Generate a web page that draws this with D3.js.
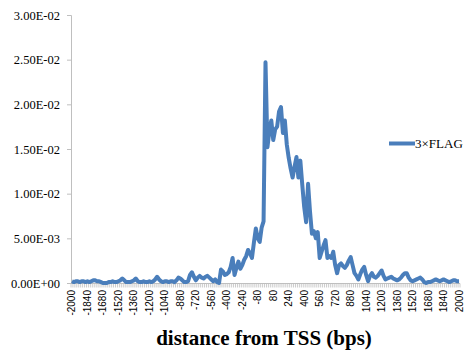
<!DOCTYPE html>
<html><head><meta charset="utf-8">
<script src="https://cdn.jsdelivr.net/npm/d3@7/dist/d3.min.js"></script>
<style>body{margin:0;background:#fff}svg{display:block}</style>
</head><body>
<script>
// categories: distance from TSS, -2000..2000 step 20
const positions = d3.range(-2000, 2001, 20);
const seriesName = "3×FLAG";
const values = [
0.0002,0.0001,0.0002,0.0002,0.0001,0.0002,0.0002,0.0001,0.0002,0.0001,
0.0002,0.0003,0.0003,0.0002,0.0002,0.0001,0.0000,0.0000,0.0000,0.0001,
0.0001,0.0002,0.0001,0.0001,0.0002,0.0003,0.0005,0.0003,0.0001,0.0001,
0.0001,0.0002,0.0003,0.0005,0.0002,0.0001,0.0001,0.0002,0.0001,0.0001,
0.0002,0.0001,0.0002,0.0004,0.0007,0.0004,0.0002,0.0001,0.0002,0.0002,
0.0001,0.0002,0.0002,0.0001,0.0003,0.0006,0.0005,0.0003,0.0001,0.0001,
0.0002,0.0009,0.0012,0.0007,0.0003,0.0006,0.0008,0.0006,0.0005,0.0007,
0.0008,0.0006,0.0004,0.0002,0.0004,0.0001,0.0000,0.0015,0.0013,0.0009,
0.0010,0.0012,0.0018,0.0028,0.0009,0.0017,0.0024,0.0016,0.0020,0.0026,
0.0030,0.0037,0.0033,0.0028,0.0045,0.0061,0.0050,0.0046,0.0062,0.0069,
0.0247,0.0152,0.0170,0.0182,0.0160,0.0172,0.0175,0.0192,0.0197,0.0168,
0.0182,0.0155,0.0140,0.0128,0.0118,0.0130,0.0141,0.0118,0.0137,0.0110,
0.0085,0.0068,0.0111,0.0080,0.0055,0.0058,0.0050,0.0057,0.0028,0.0035,
0.0042,0.0048,0.0028,0.0030,0.0028,0.0035,0.0020,0.0011,0.0020,0.0022,
0.0019,0.0017,0.0020,0.0025,0.0029,0.0020,0.0011,0.0008,0.0004,0.0010,
0.0015,0.0018,0.0009,0.0002,0.0008,0.0011,0.0007,0.0006,0.0008,0.0011,
0.0014,0.0008,0.0004,0.0005,0.0006,0.0007,0.0005,0.0004,0.0003,0.0004,
0.0006,0.0009,0.0011,0.0011,0.0006,0.0003,0.0002,0.0003,0.0004,0.0005,
0.0006,0.0004,0.0001,0.0000,0.0001,0.0001,0.0002,0.0003,0.0004,0.0003,
0.0002,0.0003,0.0004,0.0003,0.0002,0.0001,0.0002,0.0003,0.0003,0.0002,
0.0002
];
const xLabelValues = [-2000,-1840,-1680,-1520,-1360,-1200,-1040,-880,-720,-560,-400,-240,-80,80,240,400,560,720,880,1040,1200,1360,1520,1680,1840,2000];
const yTickValues = [0, 0.005, 0.01, 0.015, 0.02, 0.025, 0.03];
const yTickLabels = ["0.00E+00","5.00E-03","1.00E-02","1.50E-02","2.00E-02","2.50E-02","3.00E-02"];
const xTitle = "distance from TSS (bps)";

const W = 464, H = 351;
const svg = d3.select("body").append("svg").attr("width", W).attr("height", H);

const x = d3.scaleBand().domain(positions).range([71, 460]).paddingInner(0).paddingOuter(0);
const y = d3.scaleLinear().domain([0, 0.03]).range([283, 15]);
const cx = d => x(d) + x.bandwidth() / 2;
const axisColor = "#bfbfbf";

// Y axis
const yAxis = d3.axisLeft(y).tickValues(yTickValues)
  .tickFormat((d, i) => yTickLabels[i]).tickSize(4).tickPadding(7);
const gy = svg.append("g").attr("transform", "translate(71,0)").call(yAxis);
gy.select(".domain").attr("stroke", axisColor).attr("stroke-width", 1);
gy.selectAll(".tick line").attr("stroke", axisColor);
gy.selectAll("text").attr("font-family", "'Liberation Serif','Times New Roman',serif")
  .attr("font-size", "12.5px").attr("fill", "#000");

// X axis: domain line + minor ticks at category boundaries
const gx = svg.append("g");
gx.append("line").attr("x1", 71).attr("x2", 460).attr("y1", 283.5).attr("y2", 283.5)
  .attr("stroke", axisColor).attr("stroke-width", 1);
const bounds = positions.map(p => x(p)).concat([x(positions[positions.length-1]) + x.bandwidth()]);
gx.selectAll("line.mt").data(bounds).join("line").attr("class", "mt")
  .attr("x1", d => d).attr("x2", d => d).attr("y1", 283.5).attr("y2", 287.5)
  .attr("stroke", axisColor).attr("stroke-width", 0.8);
gx.selectAll("text.xl").data(xLabelValues).join("text").attr("class", "xl")
  .attr("transform", d => `translate(${cx(d)},290) rotate(-90)`)
  .attr("text-anchor", "end").attr("dy", "0.35em")
  .attr("font-family", "'Liberation Sans',Arial,sans-serif").attr("font-size", "10px")
  .attr("fill", "#000").text(d => String(d));

// line
const line = d3.line().x((d, i) => cx(positions[i])).y(d => y(d));
svg.append("path").datum(values).attr("d", line).attr("fill", "none")
  .attr("stroke", "#4a7ebb").attr("stroke-width", 4).attr("stroke-linejoin", "round");

// legend
svg.append("line").attr("x1", 389).attr("x2", 415).attr("y1", 143.5).attr("y2", 143.5)
  .attr("stroke", "#4a7ebb").attr("stroke-width", 4);
svg.append("text").attr("x", 415).attr("y", 147.5)
  .attr("font-family", "'Liberation Serif','Times New Roman',serif").attr("font-size", "13px")
  .attr("fill", "#000").text(seriesName);

// x title
svg.append("text").attr("x", 264).attr("y", 345).attr("text-anchor", "middle")
  .attr("font-family", "'Liberation Serif','Times New Roman',serif").attr("font-weight", "bold")
  .attr("font-size", "21px").attr("fill", "#000").text(xTitle);
</script>
</body></html>
